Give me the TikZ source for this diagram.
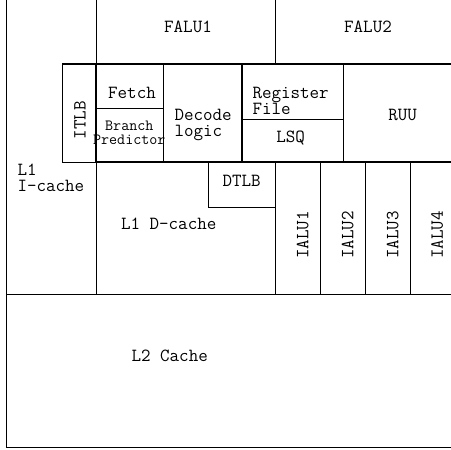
\documentclass[tikz,border=0pt]{standalone}
\usepackage{fontspec}
\begin{document}
\begin{tikzpicture}[x=1pt,y=-1pt,
  ln/.style={line width=1pt,black},
  thk/.style={line width=1.3pt,black},
  lbl/.style={inner sep=0pt,font=\fontsize{18.5}{19}\ttfamily},
  sml/.style={inner sep=0pt,font=\fontsize{15.6}{16}\ttfamily}]
\useasboundingbox (0,0) rectangle (451,450);
% outer frame
\draw[ln] (6,0) -- (6,447.5) -- (451,447.5);
\draw[ln] (6,294) -- (451,294);
% FALU area
\draw[ln] (96,0) -- (96,64);
\draw[ln] (275,0) -- (275,64);
\draw[thk] (62,64) -- (451,64);
% core row
\draw[ln] (62,64) -- (62,162) -- (96,162);
\draw[thk] (96,64) -- (96,162);
\draw[ln] (96,108) -- (163,108);
\draw[ln] (163,64) -- (163,162);
\draw[thk] (242,64) -- (242,162);
\draw[ln] (242,119) -- (343,119);
\draw[ln] (343,64) -- (343,162);
\draw[thk] (96,162) -- (451,162);
% lower row
\draw[ln] (96,162) -- (96,294);
\draw[ln] (208,162) -- (208,207) -- (275.7,207);
\draw[ln] (275.7,162) -- (275.7,294);
\draw[ln] (320.7,162) -- (320.7,294);
\draw[ln] (365.7,162) -- (365.7,294);
\draw[ln] (410.7,162) -- (410.7,294);
% labels
\node[lbl,anchor=base] (falu1) at (188,32.5) {FALU1};
\node[lbl,anchor=base] (falu2) at (368,32.5) {FALU2};
\node[lbl,rotate=90] (itlb) at (80,120) {ITLB};
\node[lbl,anchor=base] (fetch) at (132,98) {Fetch};
\node[sml,anchor=base] (branch) at (129.3,130.8) {Branch};
\node[sml,anchor=base] (pred) at (129.3,144) {Predictor};
\node[lbl,anchor=base west] (decode) at (174.3,120) {Decode};
\node[lbl,anchor=base west] (logic) at (174.3,136.7) {logic};
\node[lbl,anchor=base west] (reg) at (252.3,98) {Register};
\node[lbl,anchor=base west] (file) at (252.3,114.7) {File};
\node[lbl,anchor=base] (lsq) at (290.7,142) {LSQ};
\node[lbl,anchor=base] (ruu) at (402.7,120) {RUU};
\node[lbl,anchor=base west] (l1a) at (17.3,175.7) {L1};
\node[lbl,anchor=base west] (l1b) at (17.3,191.4) {I-cache};
\node[lbl,anchor=base] (dtlb) at (241.7,186.7) {DTLB};
\node[lbl,anchor=base] (l1d) at (168.7,229.7) {L1 D-cache};
\node[lbl,rotate=90] (ialu1) at (302.7,235) {IALU1};
\node[lbl,rotate=90] (ialu2) at (347.7,235) {IALU2};
\node[lbl,rotate=90] (ialu3) at (392.7,235) {IALU3};
\node[lbl,rotate=90] (ialu4) at (437.3,235) {IALU4};
\node[lbl,anchor=base] (l2) at (169.7,361.7) {L2 Cache};
\end{tikzpicture}
\end{document}
